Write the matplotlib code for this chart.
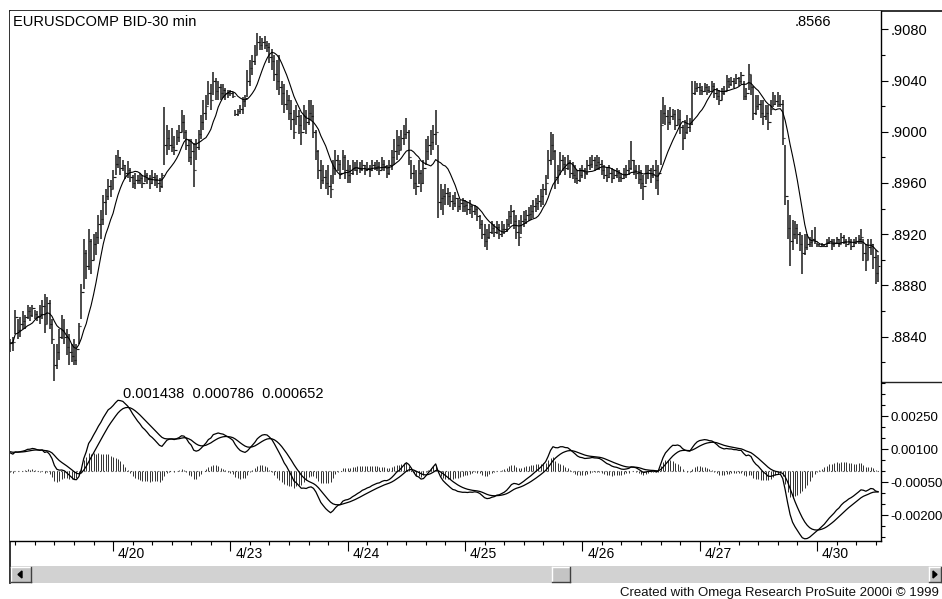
import matplotlib.pyplot as plt
import numpy as np
import pandas as pd
from matplotlib.patches import Rectangle, Polygon
from matplotlib.lines import Line2D
import matplotlib.transforms as mtransforms

plt.rcParams['font.family'] = ['Liberation Sans', 'DejaVu Sans']

W, H = 942, 599

# 30 min bars, prices in pips (x 0.0001)
# 4/19 (42 bars), 4/20 .. 4/27 (48 bars each), 4/30 (26 bars)
hi = [8838, 8840, 8861, 8854, 8855, 8860, 8857, 8865, 8863, 8865,
      8861, 8860, 8865, 8869, 8873, 8871, 8869, 8854, 8834, 8834,
      8846, 8857, 8854, 8846, 8842, 8834, 8838, 8834, 8851, 8881,
      8916, 8908, 8924, 8916, 8920, 8922, 8935, 8939, 8951, 8955,
      8963, 8962,
      8970, 8982, 8986, 8980, 8978, 8974, 8977, 8972,
      8966, 8968, 8966, 8968, 8966, 8970, 8968, 8966, 8970, 8968,
      8966, 8964, 8968, 9019, 9005, 9001, 9003, 8997, 9001, 9005,
      9017, 9013, 9001, 8994, 8994, 8991, 8994, 9001, 9013, 9025,
      9029, 9040, 9037, 9047, 9042, 9040, 9037, 9037, 9034, 9033,
      9033, 9031, 9017, 9018, 9021, 9027, 9029, 9048, 9056, 9060,
      9068, 9077, 9075, 9073, 9075, 9071, 9069, 9065, 9060, 9056,
      9060, 9040, 9037, 9033, 9029, 9025, 9017, 9021, 9017, 9013,
      9021, 9017, 9025, 9025, 9021, 9001, 8986, 8978, 8974, 8970,
      8974, 8966, 8978, 8986, 8982, 8978, 8986, 8982,
      8978, 8974, 8978, 8976, 8978, 8976, 8978, 8974, 8976, 8974, 8978, 8976,
      8978, 8976, 8980, 8978, 8974, 8978, 8986, 8994, 9001, 8997,
      9001, 9005, 9011, 9001, 8978, 8974, 8970, 8978, 8970, 8978,
      8994, 8997, 9001, 9005, 9017, 8990, 8959, 8955, 8959, 8956,
      8953, 8951, 8953, 8948, 8947, 8948,
      8947, 8945, 8947, 8943,
      8943, 8941, 8935, 8931, 8928, 8924, 8928, 8930, 8928, 8930,
      8928, 8930, 8928, 8932, 8938, 8943, 8939, 8935, 8931, 8935,
      8938, 8939, 8941, 8943, 8947, 8948, 8951, 8955, 8959, 8966,
      8986, 9000, 8998, 8986, 8974, 8984, 8982, 8980, 8982, 8978,
      8976, 8974, 8970, 8972,
      8974, 8972, 8978, 8980, 8982, 8980,
      8982, 8980, 8978, 8974, 8972, 8974, 8972, 8970, 8972, 8970,
      8968, 8972, 8974, 8978, 8993, 8978, 8974, 8974, 8970, 8966,
      8974, 8974, 8972, 8974, 8978, 8974, 9017, 9027, 9021, 9017,
      9019, 9018, 9017, 9018, 9017, 9005, 9009, 9013, 9011, 9040,
      9040, 9038,
      9038, 9036, 9038, 9037, 9036, 9040, 9038, 9034,
      9033, 9034, 9036, 9044, 9042, 9043, 9042, 9045, 9043, 9047,
      9040, 9034, 9053, 9044, 9036, 9029, 9029, 9025, 9025, 9021,
      9021, 9025, 9031, 9029, 9031, 9029, 9025, 8990, 8947, 8935,
      8931, 8930, 8928, 8922, 8919, 8920, 8920, 8918, 8923, 8926,
      8913, 8912, 8913, 8912, 8916, 8918, 8916, 8916, 8918, 8916,
      8921, 8919, 8916, 8918, 8916, 8916, 8918, 8919, 8924, 8916,
      8912, 8916, 8916, 8912, 8908, 8904]

lo = [8828, 8829, 8842, 8838, 8840, 8846, 8846, 8854, 8852, 8855,
      8854, 8852, 8850, 8854, 8843, 8850, 8846, 8834, 8805, 8815,
      8822, 8838, 8834, 8826, 8818, 8820, 8818, 8818, 8834, 8854,
      8877, 8885, 8892, 8889, 8900, 8904, 8912, 8916, 8927, 8935,
      8947, 8949,
      8955, 8966, 8972, 8966, 8969, 8963, 8964, 8961,
      8956, 8955, 8959, 8959, 8956, 8961, 8959, 8955, 8959, 8958,
      8956, 8953, 8956, 8974, 8982, 8986, 8984, 8982, 8990, 8992,
      9000, 8994, 8986, 8976, 8974, 8957, 8978, 8986, 8994, 9001,
      9009, 9021, 9017, 9029, 9025, 9025, 9025, 9026, 9025, 9026,
      9028, 9026, 9012, 9012, 9014, 9014, 9019, 9027, 9036, 9044,
      9052, 9060, 9064, 9064, 9065, 9062, 9054, 9048, 9040, 9033,
      9029, 9021, 9015, 9017, 9009, 9001, 8994, 9005, 8998, 8990,
      9001, 8998, 9005, 9009, 8995, 8978, 8963, 8955, 8959, 8955,
      8951, 8948, 8959, 8966, 8969, 8963, 8970, 8963,
      8960, 8960, 8966, 8969, 8966, 8968, 8969, 8966, 8969, 8965, 8969, 8970,
      8969, 8966, 8970, 8969, 8964, 8966, 8970, 8974, 8978, 8982,
      8986, 8990, 8994, 8974, 8963, 8955, 8951, 8959, 8953, 8959,
      8974, 8978, 8982, 8986, 8990, 8933, 8939, 8935, 8943, 8943,
      8941, 8939, 8941, 8937, 8939, 8937,
      8937, 8935, 8936, 8933,
      8935, 8930, 8924, 8916, 8910, 8908, 8916, 8920, 8918, 8920,
      8916, 8918, 8920, 8922, 8926, 8928, 8924, 8916, 8911, 8920,
      8926, 8928, 8930, 8931, 8933, 8937, 8939, 8941, 8943, 8951,
      8963, 8974, 8978, 8955, 8959, 8966, 8969, 8966, 8970, 8964,
      8963, 8960, 8959, 8961,
      8964, 8963, 8966, 8970, 8972, 8969,
      8970, 8970, 8966, 8963, 8961, 8964, 8960, 8963, 8964, 8961,
      8961, 8963, 8964, 8966, 8970, 8966, 8963, 8959, 8955, 8947,
      8959, 8963, 8960, 8964, 8955, 8951, 8974, 9006, 9005, 9001,
      9005, 9009, 9001, 9005, 8998, 8986, 8994, 8998, 9000, 9005,
      9029, 9031,
      9029, 9029, 9031, 9029, 9030, 9031, 9026, 9025,
      9021, 9025, 9029, 9033, 9034, 9036, 9034, 9037, 9036, 9037,
      9025, 9025, 9033, 9029, 9009, 9013, 9017, 9011, 9005, 9009,
      9001, 9013, 9019, 9021, 9019, 9019, 8990, 8943, 8916, 8895,
      8908, 8916, 8912, 8907, 8889, 8904, 8908, 8910, 8910, 8912,
      8910, 8910, 8910, 8910, 8910, 8912, 8908, 8910, 8912, 8910,
      8912, 8912, 8910, 8912, 8908, 8910, 8912, 8912, 8912, 8899,
      8891, 8900, 8904, 8893, 8881, 8883]

cl = [8835, 8836, 8855, 8845, 8850, 8852, 8855, 8860, 8857, 8862,
      8858, 8856, 8858, 8864, 8850, 8866, 8850, 8838, 8818, 8828,
      8840, 8845, 8840, 8832, 8828, 8825, 8822, 8830, 8848, 8875,
      8905, 8895, 8915, 8900, 8912, 8918, 8928, 8932, 8945, 8950,
      8958, 8955,
      8965, 8975, 8980, 8972, 8974, 8968, 8970, 8965,
      8960, 8962, 8962, 8964, 8960, 8966, 8963, 8960, 8965, 8962,
      8960, 8958, 8966, 8990, 8995, 8990, 8988, 8986, 8996, 9000,
      9008, 9000, 8990, 8980, 8985, 8970, 8988, 8998, 9008, 9015,
      9020, 9030, 9025, 9040, 9032, 9035, 9030, 9033, 9030, 9030,
      9030, 9028, 9014, 9016, 9018, 9024, 9026, 9040, 9050, 9055,
      9060, 9070, 9068, 9070, 9068, 9066, 9058, 9055, 9045, 9040,
      9035, 9030, 9022, 9025, 9015, 9010, 9000, 9012, 9005, 9000,
      9012, 9008, 9015, 9012, 9000, 8985, 8970, 8962, 8965, 8960,
      8958, 8955, 8972, 8978, 8975, 8968, 8980, 8970,
      8966, 8968, 8972, 8970, 8972, 8971, 8974, 8970, 8972, 8970, 8974, 8972,
      8973, 8970, 8975, 8973, 8968, 8974, 8980, 8985, 8990, 8986,
      8995, 8998, 9000, 8980, 8968, 8960, 8958, 8968, 8960, 8972,
      8985, 8990, 8992, 8998, 9000, 8945, 8948, 8950, 8952, 8950,
      8946, 8944, 8948, 8942, 8944, 8942,
      8943, 8940, 8942, 8938,
      8940, 8934, 8928, 8920, 8915, 8918, 8922, 8925, 8922, 8926,
      8920, 8924, 8924, 8928, 8934, 8938, 8930, 8922, 8918, 8930,
      8932, 8935, 8936, 8938, 8942, 8944, 8946, 8950, 8955, 8960,
      8978, 8990, 8985, 8965, 8970, 8978, 8975, 8972, 8976, 8968,
      8966, 8964, 8962, 8966,
      8970, 8968, 8974, 8975, 8978, 8974,
      8976, 8975, 8970, 8966, 8965, 8968, 8964, 8966, 8968, 8965,
      8964, 8967, 8970, 8972, 8978, 8970, 8968, 8963, 8960, 8958,
      8968, 8970, 8966, 8970, 8962, 8968, 9005, 9015, 9012, 9008,
      9012, 9014, 9005, 9010, 9004, 8995, 9000, 9004, 9006, 9030,
      9034, 9035,
      9033, 9032, 9035, 9033, 9032, 9036, 9030, 9028,
      9025, 9030, 9032, 9040, 9037, 9040, 9038, 9042, 9040, 9044,
      9028, 9030, 9045, 9035, 9015, 9020, 9022, 9015, 9012, 9015,
      9008, 9018, 9022, 9024, 9022, 9022, 8995, 8950, 8925, 8915,
      8920, 8925, 8920, 8912, 8905, 8910, 8912, 8914, 8916, 8915,
      8912, 8911, 8911, 8911, 8914, 8915, 8912, 8913, 8916, 8912,
      8918, 8915, 8912, 8914, 8911, 8913, 8915, 8916, 8918, 8905,
      8900, 8910, 8912, 8902, 8890, 8895]

day_labels = ['4/20', '4/23', '4/24', '4/25', '4/26', '4/27', '4/30']
day_start = [42, 90, 138, 186, 234, 282, 330]

price_ticks = [0.8840, 0.8880, 0.8920, 0.8960, 0.9000, 0.9040, 0.9080]
macd_ticks = [0.0025, 0.0010, -0.0005, -0.0020]
macd_text = '0.001438  0.000786  0.000652'
last_text = '.8566'
macd_start = 0.0009   # MACD level at the left edge of the window

assert len(hi) == len(lo) == len(cl) == 356

high = np.array(hi) / 10000.0
low = np.array(lo) / 10000.0
close = np.array(cl) / 10000.0
opn = np.r_[close[0], close[:-1]]
idx = np.arange(len(close))

# average line and MACD (12, 26, 9)
ma = pd.Series(close).rolling(10, min_periods=1).mean().values


def ema(values, span, start):
    alpha = 2.0 / (span + 1)
    out = []
    e = start
    for v in values:
        e = e + alpha * (v - e)
        out.append(e)
    return np.array(out)


fast = ema(close, 12, close[0])
slow = ema(close, 26, close[0] - macd_start)
macd = fast - slow
signal = ema(macd, 9, macd_start)
hist = macd - signal


def fx(x):
    return x / W


def fy(y):
    return 1 - y / H


fig = plt.figure(figsize=(W / 100, H / 100), dpi=100)
fig.patch.set_facecolor('white')

# frame, scroll bar and footer drawn in pixel coordinates
deco = fig.add_axes([0, 0, 1, 1], zorder=0)
deco.set_xlim(0, W)
deco.set_ylim(H, 0)
deco.axis('off')
deco.add_line(Line2D([10, W], [11, 11], color='#222222', lw=1.3))
deco.add_line(Line2D([10, 10], [11, 583], color='#222222', lw=1.3))
deco.add_line(Line2D([881, W], [382, 382], color='#222222', lw=1.0))
deco.add_patch(Rectangle((10, 566), W - 10, 17, facecolor='#d2d2d2', edgecolor='none'))


def button(x0, y0, w, h):
    deco.add_patch(Rectangle((x0, y0), w, h, facecolor='#c4c4c4', edgecolor='none'))
    deco.add_line(Line2D([x0, x0 + w], [y0, y0], color='white', lw=1))
    deco.add_line(Line2D([x0, x0], [y0, y0 + h], color='white', lw=1))
    deco.add_line(Line2D([x0, x0 + w], [y0 + h, y0 + h], color='#404040', lw=1))
    deco.add_line(Line2D([x0 + w, x0 + w], [y0, y0 + h], color='#404040', lw=1))


button(11, 567, 20, 15)
deco.add_patch(Polygon([(18, 574.5), (22, 571), (22, 578)], closed=True, color='black'))
button(552, 567, 18, 15)
button(929, 567, 12, 15)
deco.add_patch(Polygon([(937, 574.5), (933, 571), (933, 578)], closed=True, color='black'))
deco.text(939, 593, 'Created with Omega Research ProSuite 2000i \u00a9 1999',
          fontsize=9.5, ha='right', va='center', color='#111111')

# price panel
ax1 = fig.add_axes([fx(10), fy(382), (881 - 10) / W, (382 - 11) / H], zorder=1)
# MACD panel
ax2 = fig.add_axes([fx(10), fy(541), (881 - 10) / W, (541 - 382) / H], zorder=1)

bar_color = '#1a1a1a'
ax1.vlines(idx, low, high, color=bar_color, lw=1.1)
ax1.hlines(close, idx, idx + 0.6, color=bar_color, lw=0.8)
ax1.hlines(opn, idx - 0.6, idx, color=bar_color, lw=0.8)
ax1.plot(idx, ma, color='black', lw=0.8)

ax1.set_xlim(-0.17, 356.2)
ax1.set_ylim(0.88046, 0.90943)
ax1.yaxis.tick_right()
ax1.set_yticks(price_ticks)
ax1.set_yticklabels([('%.4f' % v)[1:] for v in price_ticks])
ax1.set_yticks([v + 0.002 for v in [0.8800] + price_ticks[:-1]], minor=True)
ax1.tick_params(axis='y', which='major', length=5, width=0.8, pad=2, labelsize=10.5)
ax1.tick_params(axis='y', which='minor', length=3, width=0.8)
ax1.set_xticks([])
ax1.spines['bottom'].set_visible(False)
ax1.spines['left'].set_visible(False)
ax1.spines['top'].set_visible(False)
ax1.spines['right'].set_linewidth(1.0)

ax1.text(3 / 871, 1 - 11 / 371, 'EURUSDCOMP BID-30 min', transform=ax1.transAxes,
         fontsize=10.5, ha='left', va='center')
ax1.text((795 - 10) / 871, 1 - 11 / 371, last_text, transform=ax1.transAxes,
         fontsize=10.5, ha='left', va='center')

# MACD, signal and difference bars
ax2.vlines(idx, 0, hist, color='#303030', lw=0.7)
ax2.axhline(0, color='#444444', lw=0.8, ls=(0, (1, 2.5)))
ax2.plot(idx, macd, color='black', lw=0.9)
ax2.plot(idx, signal, color='black', lw=0.9)

ax2.set_xlim(-0.17, 356.2)
ax2.set_ylim(-0.00317, 0.00406)
ax2.yaxis.tick_right()
ax2.set_yticks(macd_ticks)
ax2.set_yticklabels(['%.5f' % v for v in macd_ticks])
ax2.set_yticks([v for v in np.arange(-3.0, 4.01, 0.5) / 1000
                if min(abs(v - t) for t in macd_ticks) > 1e-7], minor=True)
ax2.tick_params(axis='y', which='major', length=5, width=0.8, pad=1.5, labelsize=9.5)
ax2.tick_params(axis='y', which='minor', length=3, width=0.8)

ax2.set_xticks(day_start)
ax2.set_xticks([d for d in range(2, 356, 8) if d not in day_start], minor=True)
ax2.tick_params(axis='x', which='major', length=7, width=0.8, labelbottom=False)
ax2.tick_params(axis='x', which='minor', length=3, width=0.8)
ax2.spines['top'].set_visible(False)
ax2.spines['left'].set_visible(False)
ax2.spines['right'].set_linewidth(1.0)
ax2.spines['bottom'].set_linewidth(1.0)

trans = mtransforms.blended_transform_factory(ax2.transData, ax2.transAxes)
for d, lab in zip(day_start, day_labels):
    ax2.text(d + 2, -13 / 159, lab, transform=trans, fontsize=10, ha='left', va='center')

ax2.text((123 - 10) / 871, 1 - 12 / 159, macd_text, transform=ax2.transAxes,
         fontsize=10.5, ha='left', va='center')

fig.savefig('out.png', dpi=100, facecolor='white')
